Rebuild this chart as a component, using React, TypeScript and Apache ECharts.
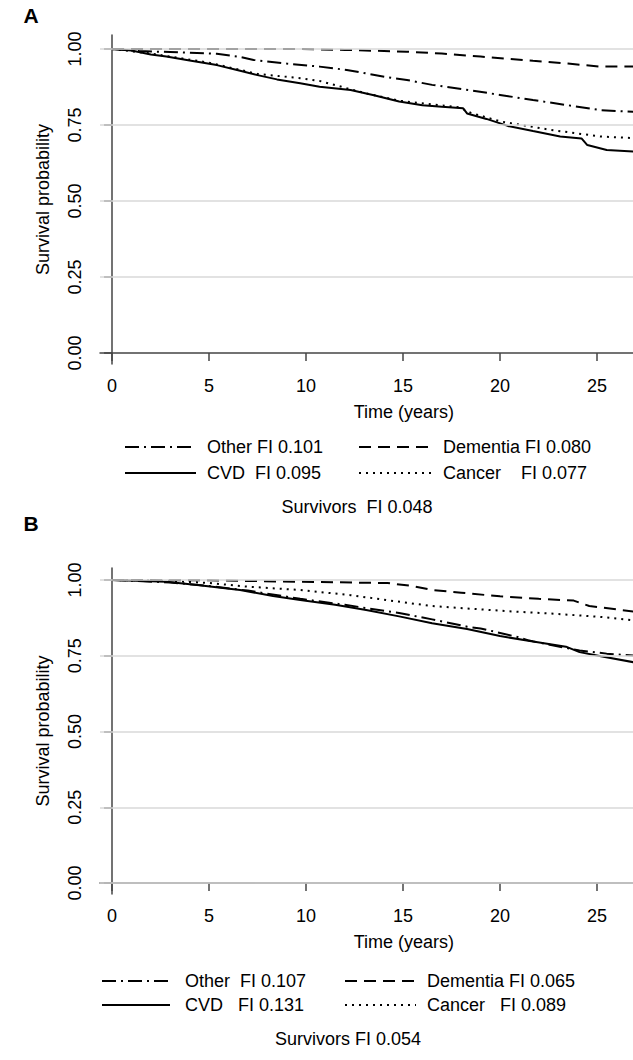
import React, { useEffect, useRef } from "react";
import * as echarts from "echarts";

// ---- tick values ----
const X_TICKS = [0, 5, 10, 15, 20, 25];
const Y_TICKS = [0, 0.25, 0.5, 0.75, 1];
const A_GRIDLINES = [0.25, 0.5, 0.75, 1];
const B_GRIDLINES = [0, 0.25, 0.5, 0.75, 1];

// ---- Panel A: [time (years), survival probability] ----
const aOther = [
  [0, 1], [1.4, 0.993], [3, 0.99], [5.4, 0.984], [6.5, 0.975], [7.3, 0.964], [9, 0.952],
  [10.7, 0.942], [12.1, 0.931], [14.2, 0.907], [15.2, 0.898], [16.5, 0.882], [18.6, 0.863],
  [20, 0.849], [21.7, 0.832], [23.4, 0.816], [25.2, 0.799], [27.2, 0.792],
];
const aDementia = [
  [0, 1], [9.7, 1.0], [12, 0.997], [15.2, 0.991], [17, 0.985], [19, 0.975], [21.7, 0.961],
  [23.5, 0.952], [25.2, 0.942], [27.2, 0.942],
];
const aCvd = [
  [0, 1], [1, 0.995], [2, 0.982], [2.8, 0.975], [4, 0.962], [5.4, 0.947], [6.5, 0.93],
  [7.5, 0.914], [8.5, 0.9], [9.7, 0.887], [10.7, 0.876], [12.3, 0.865], [13.5, 0.848],
  [14.8, 0.827], [16, 0.815], [17, 0.81], [18.1, 0.805], [18.3, 0.788], [19.3, 0.77],
  [20.4, 0.747], [21.7, 0.73], [23.1, 0.712], [24.2, 0.706], [24.5, 0.684], [25.5, 0.668],
  [27.2, 0.662],
];
const aCancer = [
  [0, 1], [2, 0.985], [5, 0.955], [7.5, 0.918], [9.7, 0.904], [10.7, 0.895], [13.1, 0.854],
  [14.8, 0.83], [17.9, 0.808], [18.5, 0.79], [20, 0.762], [22.6, 0.734], [25.2, 0.712],
  [27.2, 0.706],
];

// ---- Panel B ----
const bOther = [
  [0, 1], [3, 0.992], [5, 0.98], [7, 0.965], [9.7, 0.938], [12, 0.918], [14.8, 0.891],
  [16.5, 0.87], [18.3, 0.846], [19, 0.84], [20.9, 0.812], [21.5, 0.8], [24.1, 0.767],
  [25.5, 0.757], [27.2, 0.749],
];
const bDementia = [
  [0, 1], [5, 0.999], [9.7, 0.994], [14.2, 0.99], [15.5, 0.98], [16.5, 0.967], [18, 0.958],
  [20, 0.946], [22, 0.938], [23.8, 0.932], [24.6, 0.914], [26, 0.903], [27.2, 0.893],
];
const bCvd = [
  [0, 1], [2.8, 0.994], [4.5, 0.983], [6.6, 0.967], [8.3, 0.947], [9.7, 0.934], [11.5, 0.918],
  [13.1, 0.901], [14.8, 0.88], [16.5, 0.857], [18.3, 0.838], [20, 0.815], [21.7, 0.797],
  [23.4, 0.78], [24.1, 0.762], [25.2, 0.748], [27.2, 0.725],
];
const bCancer = [
  [0, 1], [3, 0.997], [5, 0.99], [7, 0.978], [9.7, 0.967], [12.3, 0.95], [14, 0.935],
  [16.5, 0.914], [19, 0.903], [20.9, 0.895], [22.5, 0.89], [25.2, 0.878], [27.2, 0.865],
];

// ---- legend texts ----
const A_LEGEND = [
  ["Other FI 0.101", "Dementia FI 0.080"],
  ["CVD  FI 0.095", "Cancer    FI 0.077"],
];
const A_SURVIVORS = "Survivors  FI 0.048";
const B_LEGEND = [
  ["Other  FI 0.107", "Dementia FI 0.065"],
  ["CVD   FI 0.131", "Cancer   FI 0.089"],
];
const B_SURVIVORS = "Survivors FI 0.054";

const FONT = "'Liberation Sans', Arial, sans-serif";
const FS = 18;
const AXIS_COLOR = "#444";
const GRID_COLOR = "#d9d9d9";

const DASH_OTHER = [14, 5, 2, 5];
const DASH_DEMENTIA = [12, 7];
const DASH_CANCER = [2, 5];

function makeAxes(gridIndex: number, yMin: number, yMax: number) {
  const x = {
    type: "value",
    gridIndex,
    min: -0.62,
    max: 30.7,
    axisLine: { show: true, lineStyle: { color: AXIS_COLOR, width: 1.5 } },
    axisTick: { show: true, length: 8, customValues: X_TICKS, lineStyle: { color: AXIS_COLOR, width: 1.5 } },
    axisLabel: { customValues: X_TICKS, margin: 13, fontSize: FS, color: "#000", fontFamily: FONT },
    splitLine: { show: false },
    name: "Time (years)",
    nameLocation: "middle",
    nameGap: 39,
    nameTextStyle: { fontSize: FS, color: "#000", fontFamily: FONT },
  };
  const y = {
    type: "value",
    gridIndex,
    min: yMin,
    max: yMax,
    axisLine: { show: true, lineStyle: { color: AXIS_COLOR, width: 1.5 } },
    axisTick: { show: true, length: 8, customValues: Y_TICKS, lineStyle: { color: AXIS_COLOR, width: 1.5 } },
    axisLabel: {
      customValues: Y_TICKS,
      rotate: 90,
      margin: 16,
      fontSize: FS,
      color: "#000",
      fontFamily: FONT,
      formatter: (v: number) => v.toFixed(2),
    },
    splitLine: { show: false },
    name: "Survival probability",
    nameLocation: "middle",
    nameGap: 48,
    nameRotate: 90,
    nameTextStyle: { fontSize: FS, color: "#000", fontFamily: FONT },
  };
  return { x, y };
}

function curve(name: string, data: number[][], idx: number, dash: any) {
  return {
    name,
    type: "line",
    xAxisIndex: idx,
    yAxisIndex: idx,
    data,
    showSymbol: false,
    symbol: "none",
    z: 3,
    lineStyle: { color: "#000", width: 2, type: dash },
  };
}

function gridSeries(idx: number, values: number[]) {
  return {
    type: "line",
    xAxisIndex: idx,
    yAxisIndex: idx,
    data: [],
    z: 1,
    silent: true,
    markLine: {
      silent: true,
      symbol: "none",
      label: { show: false },
      lineStyle: { color: GRID_COLOR, width: 1.5, type: "solid" },
      data: values.map((v) => ({ yAxis: v })),
    },
  };
}

function legendGraphics(rows: string[][], survivors: string, cfg: any) {
  const els: any[] = [];
  const dashes = [
    [DASH_OTHER, DASH_DEMENTIA],
    [null, DASH_CANCER],
  ];
  rows.forEach((row, r) => {
    const y = cfg.rowY[r];
    for (let c = 0; c < 2; c++) {
      const s = cfg.samples[c];
      els.push({
        type: "line",
        shape: { x1: s[0], y1: y, x2: s[1], y2: y },
        style: { stroke: "#000", lineWidth: 2, lineDash: dashes[r][c] || undefined },
      });
      els.push({
        type: "text",
        x: cfg.textX[c],
        y,
        style: { text: row[c], fontSize: FS, fontFamily: FONT, fill: "#000", verticalAlign: "middle", align: "left" },
      });
    }
  });
  els.push({
    type: "text",
    x: cfg.survX,
    y: cfg.survY,
    style: { text: survivors, fontSize: FS, fontFamily: FONT, fill: "#000", verticalAlign: "middle", align: "center" },
  });
  return els;
}

export default function App() {
  const ref = useRef<HTMLDivElement>(null);
  useEffect(() => {
    if (!ref.current) return;
    const chart = echarts.init(ref.current, null, { renderer: "svg" });
    const A = makeAxes(0, -0.036, 1.046);
    const B = makeAxes(1, -0.0363, 1.0396);
    const graphic = [
      {
        type: "text",
        x: 31,
        y: 15,
        style: { text: "A", fontSize: 21, fontWeight: "bold", fontFamily: FONT, fill: "#000", align: "center", verticalAlign: "middle" },
      },
      {
        type: "text",
        x: 31,
        y: 523,
        style: { text: "B", fontSize: 21, fontWeight: "bold", fontFamily: FONT, fill: "#000", align: "center", verticalAlign: "middle" },
      },
      ...legendGraphics(A_LEGEND, A_SURVIVORS, {
        rowY: [447, 473],
        samples: [[125, 196], [359, 434]],
        textX: [207, 443],
        survX: 357,
        survY: 507,
      }),
      ...legendGraphics(B_LEGEND, B_SURVIVORS, {
        rowY: [981, 1005],
        samples: [[102, 170], [345, 416]],
        textX: [185, 427],
        survX: 348,
        survY: 1039,
      }),
    ];
    chart.setOption({
      animation: false,
      backgroundColor: "#fff",
      grid: [
        { left: 100, top: 35, width: 607.6, height: 329 },
        { left: 100, top: 568, width: 607.6, height: 326 },
      ],
      xAxis: [A.x, B.x],
      yAxis: [A.y, B.y],
      series: [
        gridSeries(0, A_GRIDLINES),
        gridSeries(1, B_GRIDLINES),
        curve("Other", aOther, 0, DASH_OTHER),
        curve("Dementia", aDementia, 0, DASH_DEMENTIA),
        curve("CVD", aCvd, 0, "solid"),
        curve("Cancer", aCancer, 0, DASH_CANCER),
        curve("Other", bOther, 1, DASH_OTHER),
        curve("Dementia", bDementia, 1, DASH_DEMENTIA),
        curve("CVD", bCvd, 1, "solid"),
        curve("Cancer", bCancer, 1, DASH_CANCER),
      ],
      graphic,
    });
    return () => chart.dispose();
  }, []);
  return (
    <div style={{ position: "absolute", left: 0, top: 0, width: 633, height: 1060, overflow: "hidden", background: "#fff" }}>
      <div ref={ref} style={{ width: 720, height: 1060 }} />
    </div>
  );
}
